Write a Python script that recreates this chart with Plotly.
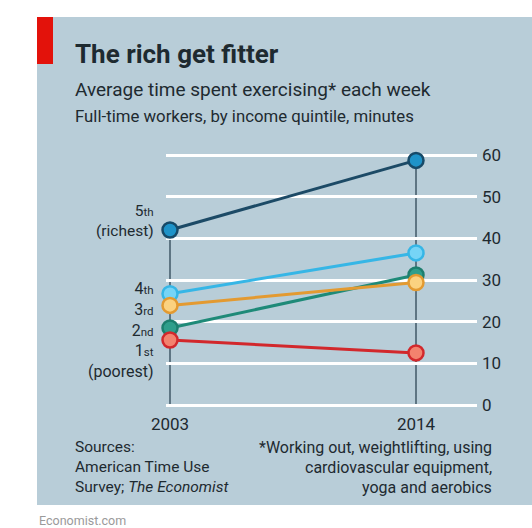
import plotly.graph_objects as go

# ---- data ----
years = [2003, 2014]
quintiles = ["1st", "2nd", "3rd", "4th", "5th"]
minutes_2003 = [15.6, 18.5, 23.9, 26.7, 42.0]
minutes_2014 = [12.5, 31.2, 29.4, 36.5, 58.7]
y_ticks = [0, 10, 20, 30, 40, 50, 60]
year_labels = ["2003", "2014"]

line_colors = {"1st": "#d2282c", "2nd": "#1e8a78", "3rd": "#e39a31", "4th": "#36b6e6", "5th": "#1c4a66"}
fill_colors = {"1st": "#f3826e", "2nd": "#2f9e8b", "3rd": "#fbd280", "4th": "#76d4f6", "5th": "#1f93c8"}
edge_colors = {"1st": "#d2282c", "2nd": "#1d7e6e", "3rd": "#e39a31", "4th": "#36b6e6", "5th": "#174a68"}

W, H = 532, 528
L, R, T, B = 166, 55, 145, 116
PW, PH = W - L - R, H - T - B


def px(x):
    return (x - L) / PW


def py(y):
    return (H - B - y) / PH


FONT = "Roboto"
BG = "#b8cdd8"
TXT = "#1e2a30"

fig = go.Figure()

draw_order = ["5th", "4th", "2nd", "3rd", "1st"]
for q in draw_order:
    i = quintiles.index(q)
    fig.add_trace(go.Scatter(
        x=years, y=[minutes_2003[i], minutes_2014[i]],
        mode="lines+markers",
        line=dict(color=line_colors[q], width=3),
        marker=dict(size=15, color=fill_colors[q], line=dict(color=edge_colors[q], width=2.5)),
        showlegend=False, hoverinfo="skip", cliponaxis=False,
    ))

shapes = [
    dict(type="rect", xref="paper", yref="paper", x0=px(37), x1=px(532), y0=py(505), y1=py(17),
         fillcolor=BG, line=dict(width=0), layer="below"),
    dict(type="rect", xref="paper", yref="paper", x0=px(37), x1=px(53), y0=py(64), y1=py(17),
         fillcolor="#e3120b", line=dict(width=0), layer="below"),
    dict(type="line", xref="x domain", yref="y", x0=0, x1=1, y0=0, y1=0,
         line=dict(color="#4d5a62", width=2), layer="below"),
]
for yr, vals in zip(years, [minutes_2003, minutes_2014]):
    shapes.append(dict(type="line", xref="x", yref="y", x0=yr, x1=yr, y0=0, y1=max(vals),
                       line=dict(color="#5e7583", width=2), layer="below"))

annotations = []


def txt(x, y, text, size, anchor="left", color=TXT, family=FONT):
    annotations.append(dict(xref="paper", yref="paper", x=px(x), y=py(y), text=text, showarrow=False,
                            xanchor=anchor, yanchor="middle", align=anchor,
                            font=dict(size=size, color=color, family=family)))


txt(73, 54, "<b>The rich get fitter</b>", 26)
txt(73, 90, "Average time spent exercising* each week", 19)
txt(73, 116, "Full-time workers, by income quintile, minutes", 16.8)
txt(73, 447, "Sources:", 15.5)
txt(73, 467, "American Time Use", 15.5)
txt(73, 487, "Survey; <i>The Economist</i>", 15.5)
txt(494, 447, "*Working out, weightlifting, using", 16, anchor="right")
txt(494, 467, "cardiovascular equipment,", 16, anchor="right")
txt(494, 487, "yoga and aerobics", 16, anchor="right")
txt(37, 520, "Economist.com", 12.5, color="#9a9a9a")

# quintile labels next to 2003 points
SUP = '<span style="font-size:11.5px">%s</span>'
lab = {"1st": "1" + SUP % "st", "2nd": "2" + SUP % "nd", "3rd": "3" + SUP % "rd",
       "4th": "4" + SUP % "th", "5th": "5" + SUP % "th"}
i5 = quintiles.index("5th")
i3 = quintiles.index("3rd")
annotations.append(dict(xref="x", yref="y", x=years[0], y=minutes_2003[i5],
                        text=lab["5th"] + "<br>(richest)", align="right",
                        showarrow=False, xanchor="right", yanchor="middle", xshift=-14, yshift=9,
                        font=dict(size=15.5, color=TXT, family=FONT)))
annotations.append(dict(xref="x", yref="y", x=years[0], y=minutes_2003[i3],
                        text="<br>".join([lab["4th"], lab["3rd"], lab["2nd"], lab["1st"], "(poorest)"]),
                        align="right", showarrow=False, xanchor="right", yanchor="middle",
                        xshift=-14, yshift=-25,
                        font=dict(size=16, color=TXT, family=FONT)))

fig.update_layout(
    width=W, height=H, margin=dict(l=L, r=R, t=T, b=B),
    paper_bgcolor="white", plot_bgcolor=BG,
    shapes=shapes, annotations=annotations,
    font=dict(family=FONT, color=TXT),
    xaxis=dict(range=[2003 - 4 / (246 / 11), 2014 + 61 / (246 / 11)], tickvals=years, ticktext=year_labels,
               showgrid=False, zeroline=False, showline=False, ticks="",
               tickfont=dict(size=17, color=TXT, family=FONT)),
    yaxis=dict(range=[-(H - B - 405) / (250 / 60), 60 + (155 - T) / (250 / 60)], tickvals=y_ticks,
               side="right", showgrid=True, gridcolor="white", gridwidth=2.5, zeroline=False,
               showline=False, ticks="", ticklabelstandoff=4,
               tickfont=dict(size=17, color=TXT, family=FONT)),
)

fig.write_html("out.html")
